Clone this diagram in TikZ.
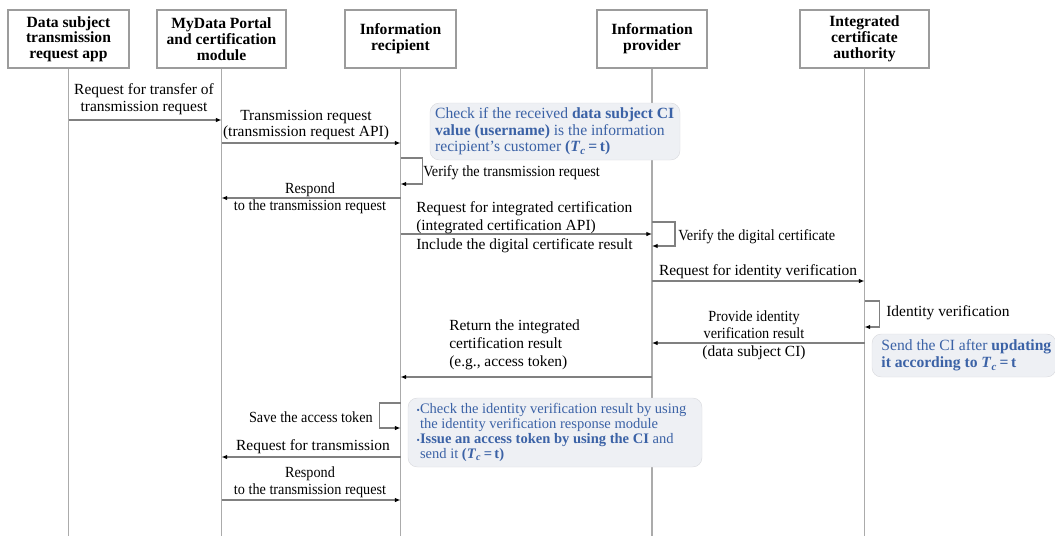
\documentclass[tikz,border=0pt]{standalone}
\usepackage{fontspec}
\setmainfont{Liberation Serif}
\newfontfamily\condfont[FakeStretch=0.92]{Liberation Serif}
\usetikzlibrary{arrows.meta}

\definecolor{lifegray}{HTML}{ABABAB}
\definecolor{boxgray}{HTML}{9C9C9C}
\definecolor{msggray}{HTML}{808080}
\definecolor{noteblue}{HTML}{3B62A6}
\definecolor{notefill}{HTML}{EEF0F4}

% bold (T_c = t) used in the notes
\newcommand\TcEq{\textbf{(\textit{T}\textsubscript{\textit{c}}\,=\,t)}}
\newcommand\TcEqBare{\textbf{\textit{T}\textsubscript{\textit{c}}\,=\,t}}
\newcommand\nbul{{\scriptsize\textbullet}}

\begin{document}
\begin{tikzpicture}[x=0.75pt,y=-0.75pt,
  actor/.style={draw=boxgray, line width=0.9pt, minimum height=43.5pt,
    align=center, inner sep=0pt,
    font=\bfseries\fontsize{11.7}{11.8}\selectfont},
  life/.style={draw=lifegray, line width=1pt},
  msg/.style={draw=msggray, line width=0.8pt,
    -{Latex[length=4.2pt,width=3.4pt,color=black]}},
  lbl/.style={font=\fontsize{11.6}{12.8}\selectfont, inner sep=0pt, align=center},
  lbll/.style={lbl, align=left},
  cond/.style={font=\condfont\fontsize{11.6}{12.8}\selectfont},
  notebox/.style={fill=notefill, draw=notefill!80!gray, line width=0.3pt,
    rounded corners=7pt, inner sep=0pt},
  notetext/.style={text=noteblue, inner sep=0pt, align=left, anchor=west}
]
\useasboundingbox (0,0) rectangle (1055,536);

% participants
\node[actor, minimum width=90.75pt] (b1) at (68.5,39) {Data subject\\transmission\\request app};
\node[actor, minimum width=96.75pt] (b2) at (221.5,39) {MyData Portal\\and certification\\module};
\node[actor, minimum width=83.25pt] (b3) at (400.5,39) {Information\\recipient};
\node[actor, minimum width=82.5pt]  (b4) at (652,39) {Information\\provider};
\node[actor, minimum width=96.75pt] (b5) at (864.5,39) {Integrated\\certificate\\authority};

% lifelines
\coordinate (bottom) at (0,536);
\foreach \b in {b1,b2,b3,b4,b5}
  \draw[life] (\b.south) -- (\b.south |- bottom);

% message rows
\coordinate (r1) at (0,120);
\coordinate (r2) at (0,143);
\coordinate (r3) at (0,198);
\coordinate (r4) at (0,234);
\coordinate (r5) at (0,281);
\coordinate (r6) at (0,343);
\coordinate (r7) at (0,377);
\coordinate (r8) at (0,457);
\coordinate (r9) at (0,500);
\coordinate (s1) at (0,158);
\coordinate (s2) at (0,222);
\coordinate (s3) at (0,301);
\coordinate (s4) at (0,403);

% messages
\draw[msg] (b1.south |- r1) -- (b2.south |- r1);
\draw[msg] (b2.south |- r2) -- (b3.south |- r2);
\draw[msg] (b3.south |- r3) -- (b2.south |- r3);
\draw[msg] (b3.south |- r4) -- (b4.south |- r4);
\draw[msg] (b4.south |- r5) -- (b5.south |- r5);
\draw[msg] (b5.south |- r6) -- (b4.south |- r6);
\draw[msg] (b4.south |- r7) -- (b3.south |- r7);
\draw[msg] (b3.south |- r8) -- (b2.south |- r8);
\draw[msg] (b2.south |- r9) -- (b3.south |- r9);

% self calls
\draw[msg] (b3.south |- s1) -- ++(22,0) -- ++(0,26) -- ++(-22,0);
\draw[msg] (b4.south |- s2) -- ++(23,0) -- ++(0,24) -- ++(-23,0);
\draw[msg] (b5.south |- s3) -- ++(15,0) -- ++(0,26) -- ++(-15,0);
\draw[msg] (b3.south |- s4) -- ++(-21,0) -- ++(0,25) -- ++(21,0);

% message labels
\node[lbl] (t1) at (144,99.5) {Request for transfer of\\transmission request};
\node[lbl, font=\fontsize{11.6}{12}\selectfont] (t2) at (306,125) {Transmission request\\(transmission request API)};
\node[lbll, cond, anchor=west] (t3) at (423,173) {Verify the transmission request};
\node[lbl, cond] (t4) at (310,198.5) {Respond\\to the transmission request};
\node[lbll, font=\fontsize{11.6}{13.4}\selectfont, anchor=west] (t5) at (416,218) {Request for integrated certification\\(integrated certification API)};
\node[lbll, anchor=west] (t6) at (416,246) {Include the digital certificate result};
\node[lbll, cond, anchor=west] (t7) at (678,237) {Verify the digital certificate};
\node[lbl] (t8) at (758,272) {Request for identity verification};
\node[lbll, anchor=west] (t9) at (886,313) {Identity verification};
\node[lbl, cond] (t10) at (754,324.5) {Provide identity\\verification result};
\node[lbl] (t11) at (754,353) {(data subject CI)};
\node[lbll, font=\fontsize{11.6}{13.6}\selectfont, anchor=west] (t12) at (449,344.5) {Return the integrated\\certification result\\(e.g., access token)};
\node[lbl, cond, anchor=east] (t13) at (373,417) {Save the access token};
\node[lbl] (t14) at (313,447) {Request for transmission};
\node[lbl, cond] (t15) at (310,482.5) {Respond\\to the transmission request};

% notes
\node[notebox, minimum width=187.5pt, minimum height=42.75pt] (n1) at (555,131.5) {};
\node[notetext, font=\fontsize{11.7}{12.4}\selectfont] (n1t) at ([xshift=3.8pt]n1.west)
  {Check if the received \textbf{data subject CI}\\
   \textbf{value (username)} is the information\\
   recipient’s customer \TcEq};

\node[notebox, minimum width=138pt, minimum height=32.25pt] (n2) at (964,355.5) {};
\node[notetext, font=\fontsize{11.7}{12.7}\selectfont] (n2t) at ([xshift=7pt]n2.west)
  {Send the CI after \textbf{updating}\\
   \textbf{it according to }\TcEqBare};

\node[notebox, minimum width=220.5pt, minimum height=51.75pt] (n3) at (555,432.5) {};
\node[notetext, font=\fontsize{10.9}{11.25}\selectfont] (n3t) at ([xshift=6.5pt]n3.west)
  {\nbul Check the identity verification result by using\\
   \hphantom{\nbul}the identity verification response module\\
   \nbul\textbf{Issue an access token by using the CI} and\\
   \hphantom{\nbul}send it \TcEq};

\end{tikzpicture}
\end{document}
